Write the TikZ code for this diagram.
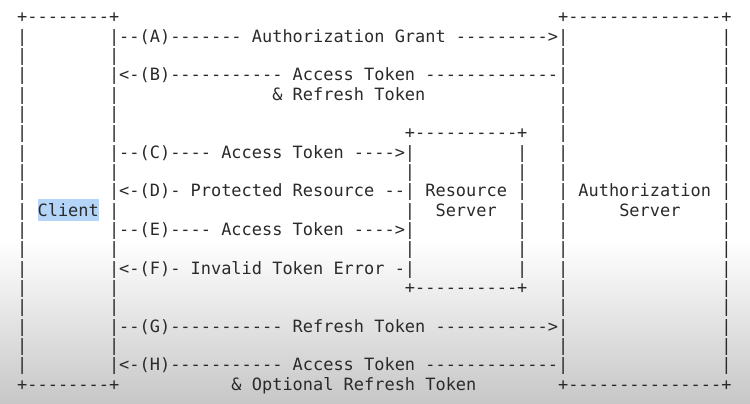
\documentclass[tikz,border=0pt]{standalone}
\usepackage{fontspec}
\setmonofont{DejaVu Sans Mono}
\newcommand*\gap[1]{\hspace*{\dimexpr#1\fontcharwd\font`x\relax}}
\newcommand*\rowskip{19.32}
\definecolor{ink}{HTML}{2A2A2A}
\definecolor{hilite}{HTML}{B4D5F8}
\newcommand*\hl[1]{\rlap{\color{hilite}\rule[-5pt]{\dimexpr6\fontcharwd\font`x\relax}{22pt}}#1}
\tikzset{line/.style={
    anchor=base west,
    inner sep=0pt,
    text=ink,
    font=\ttfamily\fontsize{16.95}{19}\selectfont
}}

\begin{document}
\begin{tikzpicture}[x=1pt,y=-1pt]

    % Background with the grey fade at the bottom.
    \useasboundingbox (0,0) rectangle (750,404);
    \fill[white] (0,0) rectangle (750,240);
    \shade[top color=white,bottom color=black!22] (0,240) rectangle (750,404);

    % The ASCII flow, one node per text row.
    \foreach \i/\txt in {
        0/{+--------+\gap{43}+---------------+},
        1/{|\gap{8}|--(A)------- Authorization Grant --------->|\gap{15}|},
        2/{|\gap{8}|\gap{43}|\gap{15}|},
        3/{|\gap{8}|<-(B)----------- Access Token -------------|\gap{15}|},
        4/{|\gap{8}|\gap{15}\& Refresh Token\gap{13}|\gap{15}|},
        5/{|\gap{8}|\gap{43}|\gap{15}|},
        6/{|\gap{8}|\gap{28}+----------+\gap{3}|\gap{15}|},
        7/{|\gap{8}|--(C)---- Access Token ---->|\gap{10}|\gap{3}|\gap{15}|},
        8/{|\gap{8}|\gap{28}|\gap{10}|\gap{3}|\gap{15}|},
        9/{|\gap{8}|<-(D)- Protected Resource --| Resource |\gap{3}| Authorization |},
        10/{|\gap{1}\hl{Client}\gap{1}|\gap{28}|\gap{2}Server\gap{2}|\gap{3}|\gap{5}Server\gap{4}|},
        11/{|\gap{8}|--(E)---- Access Token ---->|\gap{10}|\gap{3}|\gap{15}|},
        12/{|\gap{8}|\gap{28}|\gap{10}|\gap{3}|\gap{15}|},
        13/{|\gap{8}|<-(F)- Invalid Token Error -|\gap{10}|\gap{3}|\gap{15}|},
        14/{|\gap{8}|\gap{28}+----------+\gap{3}|\gap{15}|},
        15/{|\gap{8}|\gap{43}|\gap{15}|},
        16/{|\gap{8}|--(G)----------- Refresh Token ----------->|\gap{15}|},
        17/{|\gap{8}|\gap{43}|\gap{15}|},
        18/{|\gap{8}|<-(H)----------- Access Token -------------|\gap{15}|},
        19/{+--------+\gap{11}\& Optional Refresh Token\gap{8}+---------------+}}
        \node[line] (row\i) at (17,23+\rowskip*\i) {\txt};

\end{tikzpicture}
\end{document}
